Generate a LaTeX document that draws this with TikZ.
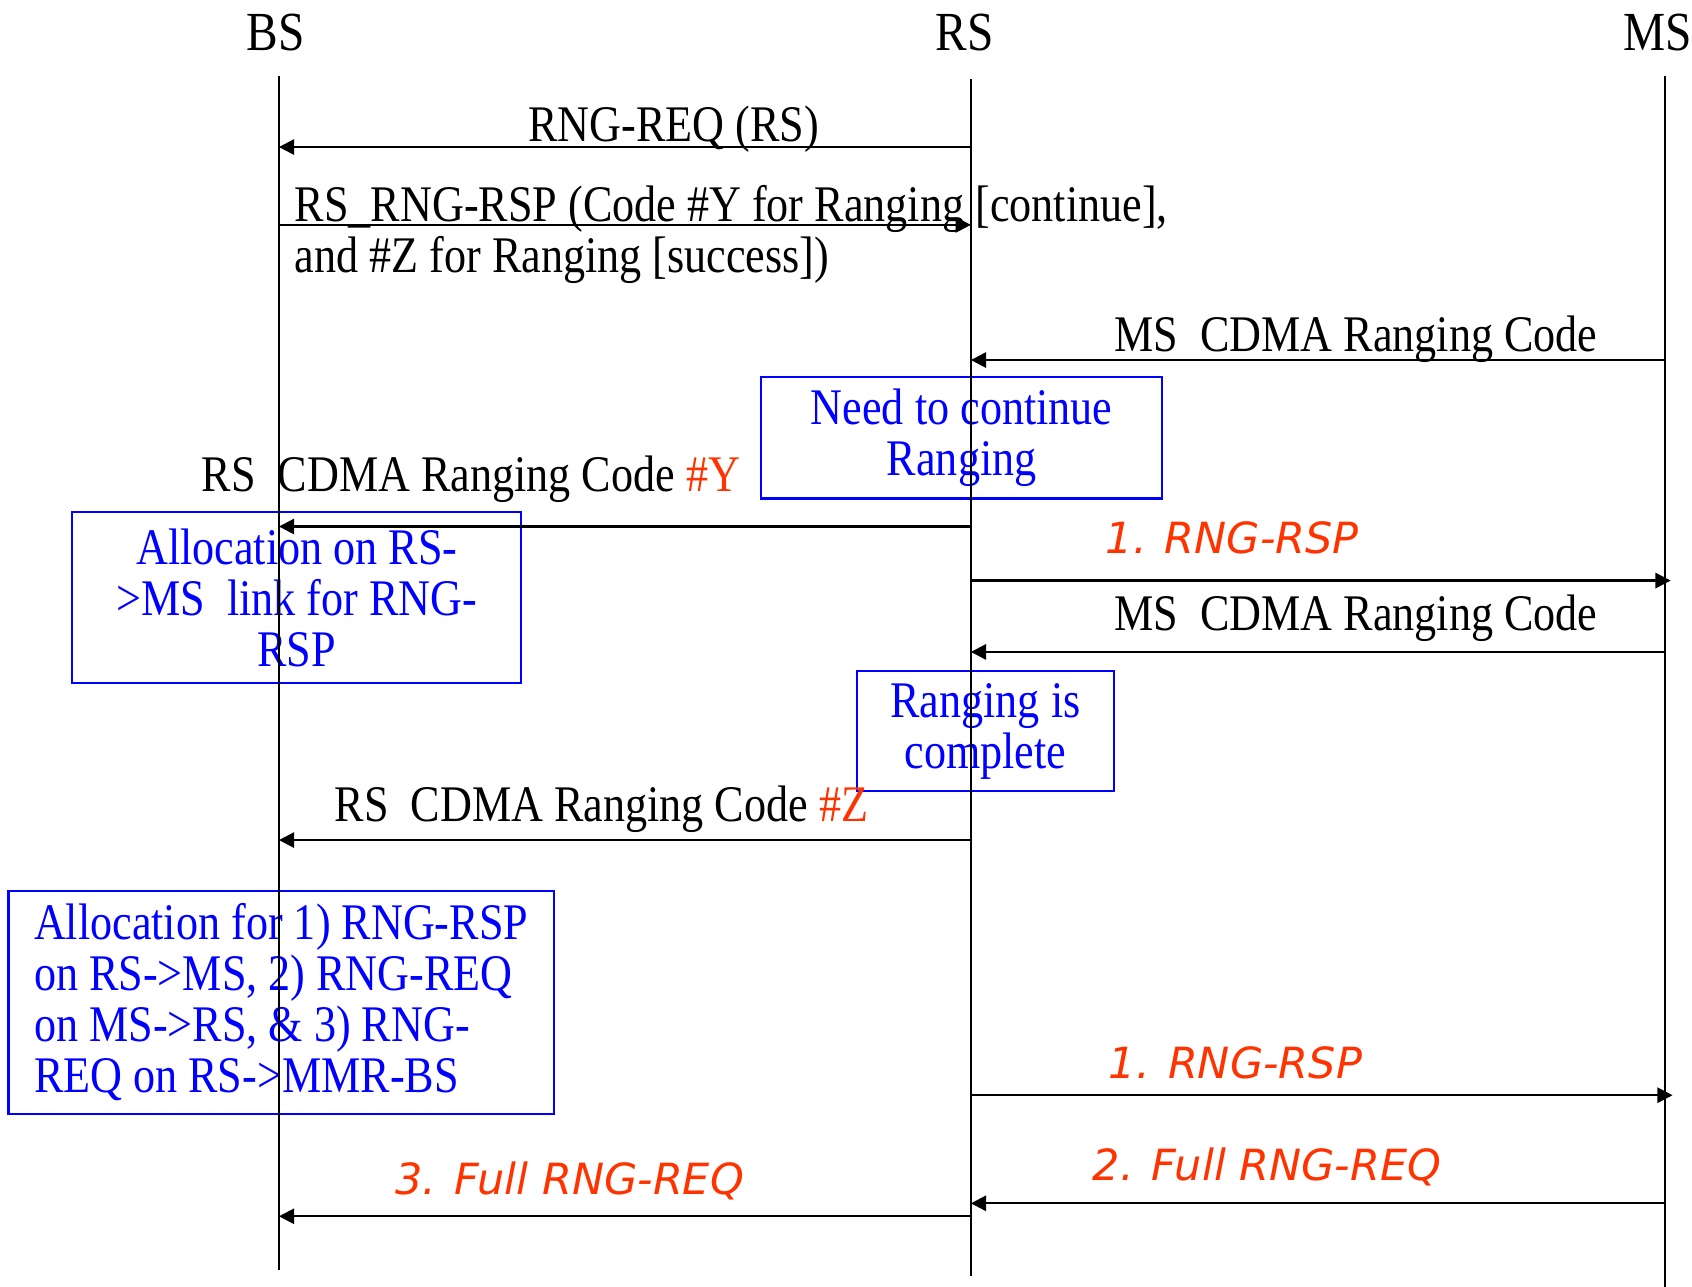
\documentclass[tikz,border=0pt]{standalone}
\usepackage{fontspec}
\setmainfont{Liberation Serif}[FakeStretch=0.86]
\newfontfamily\msgfont{DejaVu Sans}
\usetikzlibrary{arrows.meta}
\definecolor{codered}{RGB}{255,51,0}
\tikzset{>={Triangle[length=4pt,width=4pt]}}
\tikzset{
  entity/.style={font=\fontsize{14.5}{16}\selectfont, inner sep=0},
  lifeline/.style={line width=0.4pt},
  msg/.style={->, line width=0.6pt},
  lbl/.style={font=\fontsize{13.5}{13.4}\selectfont, inner sep=0, anchor=base west},
  redlbl/.style={text=codered, font=\msgfont\itshape\fontsize{11.3}{13}\selectfont, inner sep=0, anchor=base west},
  note/.style={draw=blue, line width=0.55pt, text=blue, inner sep=0, font=\fontsize{13.5}{13.4}\selectfont}
}

\begin{document}
\begin{tikzpicture}[x=0.01cm, y=-0.01cm]
     \useasboundingbox (0,0) rectangle (1565,1190);
     % entities
     \node[entity] (bs) at (255,30) {BS};
     \node[entity] (rs) at (892,30) {RS};
     \node[entity] (ms) at (1533,30) {MS};
     % notes
     \node[note, minimum width=3.71cm, minimum height=1.12cm, align=center] (cont) at (889.5,405) {Need to continue\\Ranging};
     \node[note, minimum width=4.15cm, minimum height=1.58cm, align=center] (alloc) at (274.5,553) {Allocation on RS-\\>MS~ link for RNG-\\RSP};
     \node[note, minimum width=2.37cm, minimum height=1.11cm, align=center] (done) at (911.5,676.5) {Ranging is\\complete};
     \node[note, minimum width=5.04cm, minimum height=2.06cm, align=left] (allocfull) at (260,927) {Allocation for 1) RNG-RSP\\on RS->MS, 2) RNG-REQ\\on MS->RS, \& 3) RNG-\\REQ on RS->MMR-BS};
     % lifelines
     \coordinate (bstop) at (258,70);
     \coordinate (bsend) at (258,1175);
     \coordinate (rstop) at (898,73);
     \coordinate (rsend) at (898,1180);
     \coordinate (mstop) at (1540,70);
     \coordinate (msend) at (1540,1190);
     \draw[lifeline] (bstop) -- (bsend);
     \draw[lifeline] (rstop) -- (rsend);
     \draw[lifeline] (mstop) -- (msend);
     % messages
     \draw[msg] (rstop |- 0,136) -- (bstop |- 0,136);
     \node[lbl, anchor=base] (req) at (623,131) {RNG-REQ (RS)};
     \draw[msg] (bstop |- 0,208) -- (rstop |- 0,208);
     \node[lbl, align=left] (rsp) at (272,252) {RS\_RNG-RSP (Code \#Y for Ranging [continue],\\and \#Z for Ranging [success])};
     \draw[msg] (mstop |- 0,333) -- (rstop |- 0,333);
     \node[lbl] (code1) at (1030,325) {MS~ CDMA Ranging Code};
     \draw[msg] (rstop |- 0,487) -- (bstop |- 0,487);
     \node[lbl] (codey) at (186,455) {RS~ CDMA Ranging Code {\color{codered}\#Y}};
     \draw[msg, shorten >=-1.5pt] (rstop |- 0,537) -- (mstop |- 0,537);
     \node[redlbl] (rsp1) at (1022,512) {1. RNG-RSP};
     \draw[msg] (mstop |- 0,603) -- (rstop |- 0,603);
     \node[lbl] (code2) at (1030,583) {MS~ CDMA Ranging Code};
     \draw[msg] (rstop |- 0,777) -- (bstop |- 0,777);
     \node[lbl] (codez) at (309,760) {RS~ CDMA Ranging Code {\color{codered}\#Z}};
     \draw[msg, shorten >=-2pt] (rstop |- 0,1013) -- (mstop |- 0,1013);
     \node[redlbl] (rsp2) at (1025,998) {1. RNG-RSP};
     \draw[msg] (mstop |- 0,1113) -- (rstop |- 0,1113);
     \node[redlbl] (fullms) at (1010,1092) {2. Full RNG-REQ};
     \draw[msg] (rstop |- 0,1125) -- (bstop |- 0,1125);
     \node[redlbl] (fullrs) at (365,1105) {3. Full RNG-REQ};
\end{tikzpicture}
\end{document}
